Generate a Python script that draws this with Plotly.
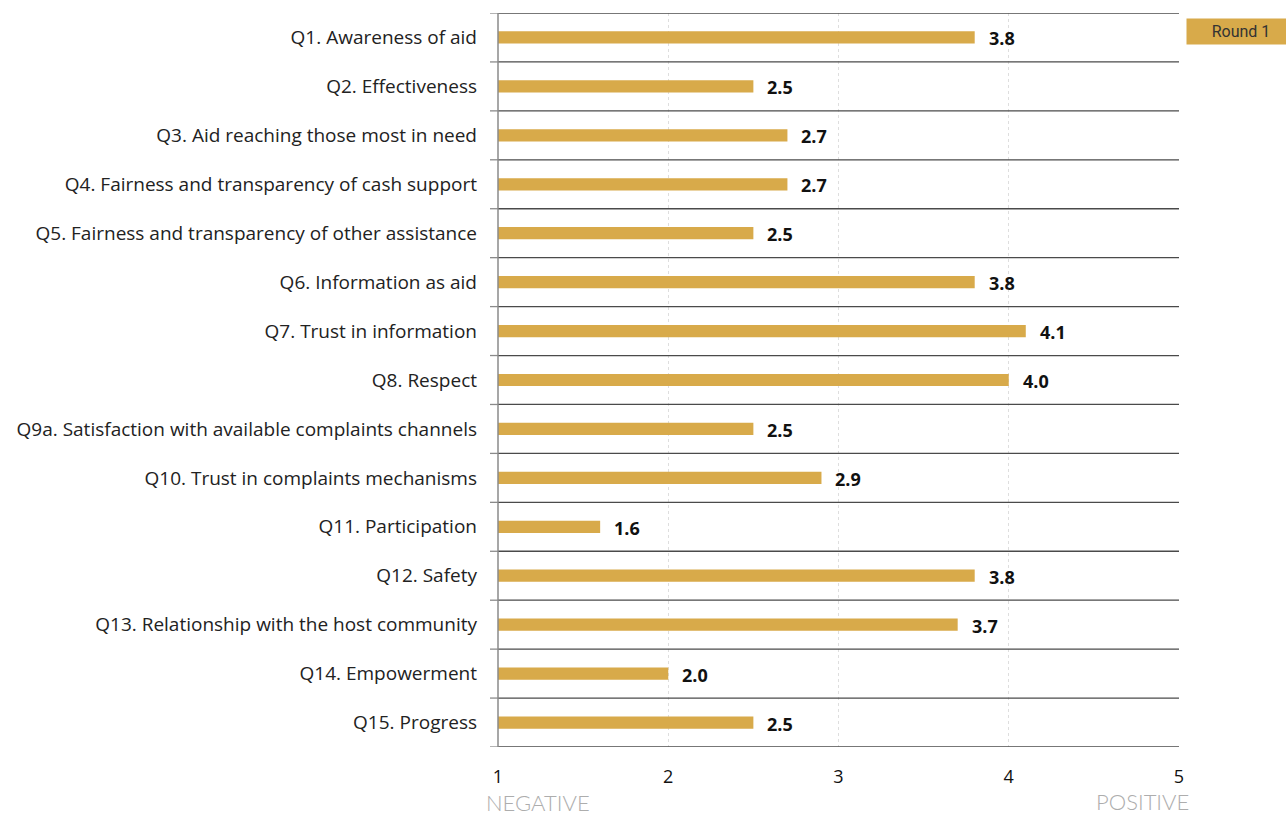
import plotly.graph_objects as go

questions = [
    "Q1. Awareness of aid",
    "Q2. Effectiveness",
    "Q3. Aid reaching those most in need",
    "Q4. Fairness and transparency of cash support",
    "Q5. Fairness and transparency of other assistance",
    "Q6. Information as aid",
    "Q7. Trust in information",
    "Q8. Respect",
    "Q9a. Satisfaction with available complaints channels",
    "Q10. Trust in complaints mechanisms",
    "Q11. Participation",
    "Q12. Safety",
    "Q13. Relationship with the host community",
    "Q14. Empowerment",
    "Q15. Progress",
]
round1_scores = [3.8, 2.5, 2.7, 2.7, 2.5, 3.8, 4.1, 4.0, 2.5, 2.9, 1.6, 3.8, 3.7, 2.0, 2.5]
x_ticks = [1, 2, 3, 4, 5]
series_name = "Round 1"

GOLD = "#D8AA4A"
LABEL_FONT = "'Open Sans', Lato, sans-serif"

# horizontal bars start at the axis minimum (1)
fig = go.Figure(
    go.Bar(
        y=questions,
        x=[v - 1 for v in round1_scores],
        base=1,
        orientation="h",
        marker=dict(color=GOLD, line=dict(width=0)),
        width=0.25,
        name=series_name,
        hoverinfo="skip",
    )
)

# bold value labels to the right of each bar
for q, v in zip(questions, round1_scores):
    fig.add_annotation(
        x=v, y=q, text=f"<b>{v:.1f}</b>", showarrow=False,
        xanchor="left", xshift=12, yshift=-1,
        font=dict(family=LABEL_FONT, size=18, color="#111111"),
    )

shapes = []
n = len(questions)
# separators between the rows plus small tick marks on the left axis
for i in range(n + 1):
    y = i - 0.5
    shapes.append(dict(type="line", xref="paper", yref="y", x0=0, x1=1, y0=y, y1=y,
                       line=dict(color="#4a4a4a", width=1.3)))
    shapes.append(dict(type="line", xref="paper", yref="y", x0=-8 / 681, x1=0, y0=y, y1=y,
                       line=dict(color="#8a8a8a", width=1.3)))
# left axis line
shapes.append(dict(type="line", xref="paper", yref="paper", x0=0, x1=0, y0=0, y1=1,
                   line=dict(color="#8a8a8a", width=1.5)))

fig.update_layout(
    width=1286, height=817,
    margin=dict(l=498, r=107, t=13, b=70),
    plot_bgcolor="white", paper_bgcolor="white",
    showlegend=False,
    shapes=shapes,
    bargap=0.75,
)

fig.update_xaxes(
    range=[1, 5], tickvals=x_ticks, ticktext=[str(t) for t in x_ticks],
    showgrid=True, gridcolor="#dedede", griddash="dot", gridwidth=1,
    zeroline=False, showline=False,
    ticks="outside", ticklen=13, tickcolor="rgba(0,0,0,0)",
    tickfont=dict(family=LABEL_FONT, size=18, color="#111111"),
)
fig.update_yaxes(
    autorange=False, range=[n - 0.5, -0.5],
    showgrid=False, zeroline=False, showline=False, ticks="",
    ticklabelstandoff=20,
    tickfont=dict(family=LABEL_FONT, size=19, color="#222222"),
)

# series key in the top-right corner
fig.add_annotation(
    xref="paper", yref="paper",
    x=(1186 - 498) / 681, y=(817 - 70 - 18) / 734,
    xanchor="left", yanchor="top",
    text=series_name, showarrow=False,
    bgcolor=GOLD, width=104, height=21, borderpad=2,
    font=dict(family="Roboto, sans-serif", size=16, color="#333333"),
)

# scale end labels
fig.add_annotation(xref="paper", yref="paper", x=-13 / 681, y=-70 / 734,
                   xanchor="left", yanchor="bottom", text="NEGATIVE", showarrow=False,
                   borderpad=0,
                   font=dict(family="Lato, sans-serif", size=22, color="#adadad", weight=300))
fig.add_annotation(xref="paper", yref="paper", x=1 + 11 / 681, y=-69 / 734,
                   xanchor="right", yanchor="bottom", text="POSITIVE", showarrow=False,
                   borderpad=0,
                   font=dict(family="Lato, sans-serif", size=22, color="#adadad", weight=300))

fig.write_html("out.html")
